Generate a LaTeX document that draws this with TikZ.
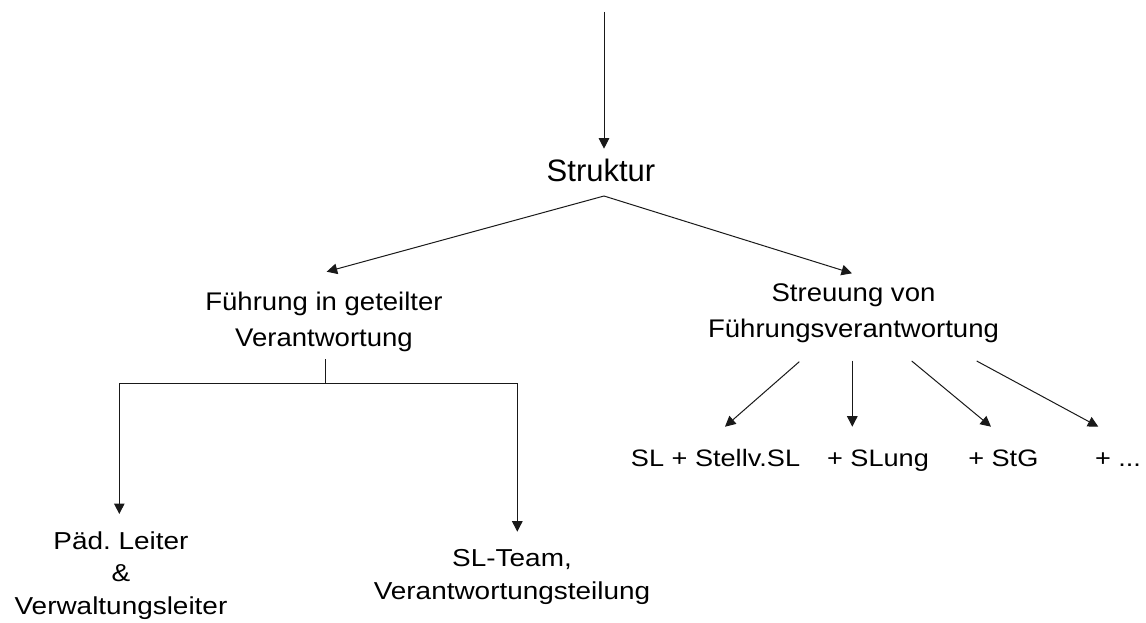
\documentclass[tikz,border=0pt]{standalone}
\usepackage{fontspec}
\setmainfont{Liberation Sans}
\newfontfamily\fa[FakeStretch=1.08]{Liberation Sans}
\newfontfamily\fb[FakeStretch=1.14]{Liberation Sans}
\usetikzlibrary{arrows.meta}
\frenchspacing
\tikzset{
  conn/.style={line width=1pt, draw=black!90},
  arr/.style={conn, -{Triangle[length=10.5pt,width=10.5pt]}},
  lbl/.style={inner sep=0pt, outer sep=0pt, anchor=base, align=center},
  ftitle/.style={lbl, font=\fontsize{31}{37}\selectfont},
  fmid/.style={lbl, font=\fa\fontsize{25.5}{35.5}\selectfont},
  fbot/.style={lbl, font=\fb\fontsize{24.5}{32.5}\selectfont},
  fleaf/.style={lbl, font=\fb\fontsize{23.8}{30}\selectfont}
}
\begin{document}
\begin{tikzpicture}[x=1pt,y=-1pt]
\useasboundingbox (0,0) rectangle (1146,623);
% nodes (multi-line nodes are placed at the baseline of their last line)
\node[ftitle] (struktur) at (601,182) {Struktur};
\node[fmid] (fuehrung) at (324,346) {Führung in geteilter\\Verantwortung};
\node[fmid] (streuung) at (853.5,337.3) {Streuung von\\Führungsverantwortung};
\node[fbot] (paed) at (121,614) {Päd.\ Leiter\\\&\\Verwaltungsleiter};
\node[fbot] (team) at (512,599.3) {SL-Team,\\Verantwortungsteilung};
\node[fleaf] (sl) at (715.5,466.7) {SL + Stellv.SL};
\node[fleaf] (slung) at (878,466.7) {+ SLung};
\node[fleaf] (stg) at (1003.3,466.7) {+ StG};
\node[fleaf] (more) at (1118,466.7) {+ ...};
% connector end points
\coordinate (top) at (604,12);
\coordinate (struktur-in) at (604,148.7);
\coordinate (apex) at (604,196);
\coordinate (fuehrung-in) at (326.7,271.7);
\coordinate (streuung-in) at (852,273.3);
\coordinate (fuehrung-out) at (325,359.3);
\coordinate (branch) at (325,383.3);
\coordinate (paed-in) at (119.3,514);
\coordinate (team-in) at (517.3,531.7);
\coordinate (s-out1) at (799.3,361.7);
\coordinate (s-out2) at (852.3,360.7);
\coordinate (s-out3) at (911.7,361);
\coordinate (s-out4) at (976.7,361);
\coordinate (sl-in) at (725,426.7);
\coordinate (slung-in) at (852.3,426.7);
\coordinate (stg-in) at (991,426.7);
\coordinate (more-in) at (1098.3,426.7);
% connectors
\draw[arr] (top) -- (struktur-in);
\draw[arr] (apex) -- (fuehrung-in);
\draw[arr] (apex) -- (streuung-in);
\draw[conn] (fuehrung-out) -- (branch);
\draw[arr] (branch) -| (paed-in);
\draw[arr] (branch) -| (team-in);
\draw[arr] (s-out1) -- (sl-in);
\draw[arr] (s-out2) -- (slung-in);
\draw[arr] (s-out3) -- (stg-in);
\draw[arr] (s-out4) -- (more-in);
\end{tikzpicture}
\end{document}
